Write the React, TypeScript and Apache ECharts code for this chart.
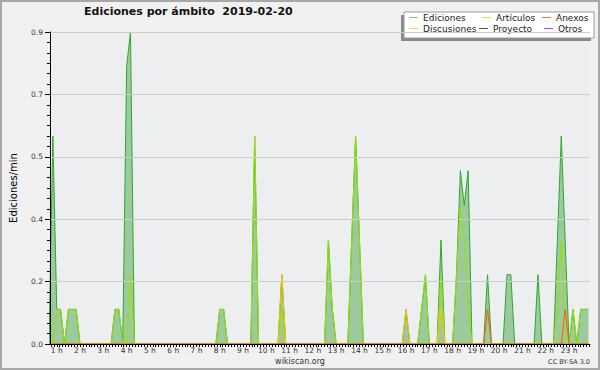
import React, { useEffect, useRef } from "react";
import * as echarts from "echarts";

// ---- texts ----
const TITLE = "Ediciones por ámbito  2019-02-20";
const Y_NAME = "Ediciones/min";
const FOOTER = "wikiscan.org";
const LICENSE = "CC BY-SA 3.0";

// ---- axes ----
const HOURS = [1, 2, 3, 4, 5, 6, 7, 8, 9, 10, 11, 12, 13, 14, 15, 16, 17, 18, 19, 20, 21, 22, 23];
const X_MIN = 0.71;
const X_MAX = 23.9;
const Y_MAX = 0.9;
const Y_STEP = 0.18;

// 10-minute bins, one row per hour (6 bins)
const BIN_START = 0;
const BIN_STEP = 1 / 6;

// ---- series values (edits per minute) ----
const ediciones = [
  0, 0, 0, 0, 0, 0.6,
  0.1, 0.1, 0, 0.1, 0.1, 0.1,
  0, 0, 0, 0, 0, 0,
  0, 0, 0, 0.1, 0.1, 0,
  0.8, 0.9, 0, 0, 0, 0,
  0, 0, 0, 0, 0, 0,
  0, 0, 0, 0, 0, 0,
  0, 0, 0, 0, 0, 0,
  0.1, 0.1, 0, 0, 0, 0,
  0, 0, 0, 0.6, 0, 0,
  0, 0, 0, 0, 0.2, 0,
  0, 0, 0, 0, 0, 0,
  0, 0, 0, 0, 0.3, 0.1,
  0, 0, 0, 0, 0.3, 0.6,
  0.3, 0, 0, 0, 0, 0,
  0, 0, 0, 0, 0, 0,
  0.1, 0, 0, 0, 0.1, 0.2,
  0, 0, 0, 0.3, 0, 0,
  0, 0.2, 0.5, 0.4, 0.5, 0,
  0, 0, 0, 0.2, 0, 0,
  0, 0, 0.2, 0.2, 0, 0,
  0, 0, 0, 0, 0.2, 0,
  0, 0, 0, 0.3, 0.6, 0.3,
  0, 0.1, 0, 0.1, 0.1, 0.1,
];

const articulos = [
  0, 0, 0, 0, 0, 0,
  0.1, 0.1, 0, 0.1, 0.1, 0.1,
  0, 0, 0, 0, 0, 0,
  0, 0, 0, 0.1, 0.1, 0,
  0, 0.2, 0, 0, 0, 0,
  0, 0, 0, 0, 0, 0,
  0, 0, 0, 0, 0, 0,
  0, 0, 0, 0, 0, 0,
  0.1, 0.1, 0, 0, 0, 0,
  0, 0, 0, 0.6, 0, 0,
  0, 0, 0, 0, 0.1, 0,
  0, 0, 0, 0, 0, 0,
  0, 0, 0, 0, 0.3, 0.1,
  0, 0, 0, 0, 0.3, 0.6,
  0.3, 0, 0, 0, 0, 0,
  0, 0, 0, 0, 0, 0,
  0, 0, 0, 0, 0.1, 0.2,
  0, 0, 0, 0.2, 0, 0,
  0, 0.2, 0.4, 0.3, 0.1, 0,
  0, 0, 0, 0, 0, 0,
  0, 0, 0, 0, 0, 0,
  0, 0, 0, 0, 0, 0,
  0, 0, 0, 0.1, 0.3, 0,
  0, 0.1, 0, 0.1, 0.1, 0.1,
];

const anexos = [
  0, 0, 0, 0, 0, 0,
  0, 0, 0, 0, 0, 0,
  0, 0, 0, 0, 0, 0,
  0, 0, 0, 0, 0, 0,
  0, 0, 0, 0, 0, 0,
  0, 0, 0, 0, 0, 0,
  0, 0, 0, 0, 0, 0,
  0, 0, 0, 0, 0, 0,
  0, 0, 0, 0, 0, 0,
  0, 0, 0, 0, 0, 0,
  0, 0, 0, 0, 0, 0,
  0, 0, 0, 0, 0, 0,
  0, 0, 0, 0, 0, 0,
  0, 0, 0, 0, 0, 0,
  0, 0, 0, 0, 0, 0,
  0, 0, 0, 0, 0, 0,
  0, 0, 0, 0, 0, 0,
  0, 0, 0, 0, 0, 0,
  0, 0, 0, 0, 0, 0,
  0, 0, 0, 0.1, 0, 0,
  0, 0, 0, 0, 0, 0,
  0, 0, 0, 0, 0, 0,
  0, 0, 0, 0, 0, 0.1,
  0, 0, 0, 0, 0, 0,
];

const discusiones = [
  0, 0, 0, 0, 0, 0,
  0, 0, 0, 0, 0, 0,
  0, 0, 0, 0, 0, 0,
  0, 0, 0, 0, 0, 0,
  0, 0, 0, 0, 0, 0,
  0, 0, 0, 0, 0, 0,
  0, 0, 0, 0, 0, 0,
  0, 0, 0, 0, 0, 0,
  0, 0, 0, 0, 0, 0,
  0, 0, 0, 0, 0, 0,
  0, 0, 0, 0, 0.2, 0,
  0, 0, 0, 0, 0, 0,
  0, 0, 0, 0, 0, 0,
  0, 0, 0, 0, 0, 0,
  0, 0, 0, 0, 0, 0,
  0, 0, 0, 0, 0, 0,
  0.1, 0, 0, 0, 0, 0,
  0, 0, 0, 0.1, 0, 0,
  0, 0, 0, 0, 0, 0,
  0, 0, 0, 0, 0, 0,
  0, 0, 0, 0, 0, 0,
  0, 0, 0, 0, 0, 0,
  0, 0, 0, 0, 0, 0,
  0, 0, 0, 0, 0, 0,
];

const proyecto = [
  0, 0, 0, 0, 0, 0,
  0, 0, 0, 0, 0, 0,
  0, 0, 0, 0, 0, 0,
  0, 0, 0, 0, 0, 0,
  0, 0, 0, 0, 0, 0,
  0, 0, 0, 0, 0, 0,
  0, 0, 0, 0, 0, 0,
  0, 0, 0, 0, 0, 0,
  0, 0, 0, 0, 0, 0,
  0, 0, 0, 0, 0, 0,
  0, 0, 0, 0, 0, 0,
  0, 0, 0, 0, 0, 0,
  0, 0, 0, 0, 0, 0,
  0, 0, 0, 0, 0, 0,
  0, 0, 0, 0, 0, 0,
  0, 0, 0, 0, 0, 0,
  0, 0, 0, 0, 0, 0,
  0, 0, 0, 0, 0, 0,
  0, 0, 0, 0, 0, 0,
  0, 0, 0, 0, 0, 0,
  0, 0, 0, 0, 0, 0,
  0, 0, 0, 0, 0, 0,
  0, 0, 0, 0, 0, 0,
  0, 0, 0, 0, 0, 0,
];

const otros = [
  0, 0, 0, 0, 0, 0,
  0, 0, 0, 0, 0, 0,
  0, 0, 0, 0, 0, 0,
  0, 0, 0, 0, 0, 0,
  0, 0, 0, 0, 0, 0,
  0, 0, 0, 0, 0, 0,
  0, 0, 0, 0, 0, 0,
  0, 0, 0, 0, 0, 0,
  0, 0, 0, 0, 0, 0,
  0, 0, 0, 0, 0, 0,
  0, 0, 0, 0, 0, 0,
  0, 0, 0, 0, 0, 0,
  0, 0, 0, 0, 0, 0,
  0, 0, 0, 0, 0, 0,
  0, 0, 0, 0, 0, 0,
  0, 0, 0, 0, 0, 0,
  0, 0, 0, 0, 0, 0,
  0, 0, 0, 0, 0, 0,
  0, 0, 0, 0, 0, 0,
  0, 0, 0, 0, 0, 0,
  0, 0, 0, 0, 0, 0,
  0, 0, 0, 0, 0, 0,
  0, 0, 0, 0, 0, 0,
  0, 0, 0, 0, 0, 0,
];

const FONT = "DejaVu Sans";

const pairs = (vals: number[]) => vals.map((v, i) => [BIN_START + i * BIN_STEP, v]);

export default function App() {
  const ref = useRef<HTMLDivElement>(null);

  useEffect(() => {
    document.body.style.margin = "0";
    if (!ref.current) return;
    const chart = echarts.init(ref.current, undefined, { renderer: "svg" });

    const fineTicks: number[] = [];
    for (let t = 0.75; t < X_MAX; t += 0.125) fineTicks.push(t);

    const lineSeries = (name: string, vals: number[], color: string, z: number) => ({
      type: "line",
      name,
      data: pairs(vals),
      symbol: "none",
      showSymbol: false,
      lineStyle: { color, width: 1 },
      itemStyle: { color },
      clip: true,
      z,
    });

    const legendItem = (name: string, color: string, left: number, top: number) => ({
      data: [{ name, icon: "rect", itemStyle: { color } }],
      left,
      top,
      padding: 0,
      itemWidth: 9,
      itemHeight: 1,
      selectedMode: false,
      z: 6,
      textStyle: { fontSize: 9, fontFamily: FONT, color: "#222", padding: [0, 0, 0, 0] },
    });

    const option: any = {
      animation: false,
      backgroundColor: "#f1f1f1",
      title: {
        text: TITLE,
        left: 84,
        top: 6,
        padding: 0,
        textStyle: { fontSize: 11, fontWeight: "bold", fontFamily: FONT, color: "#111" },
      },
      grid: {
        left: 46,
        right: 10,
        top: 32,
        bottom: 26,
        show: true,
        backgroundColor: "#eceef0",
        borderWidth: 0,
        containLabel: false,
      },
      legend: [
        legendItem("Ediciones", "#88cc88", 409, 13),
        legendItem("Artículos", "#c8ee55", 482, 13),
        legendItem("Anexos", "#ee7744", 542, 13),
        legendItem("Discusiones", "#ffd040", 409, 24),
        legendItem("Proyecto", "#555555", 479, 24),
        legendItem("Otros", "#9955ee", 544, 24),
      ],
      xAxis: {
        type: "value",
        min: X_MIN,
        max: X_MAX,
        z: 10,
        axisLine: { show: true, onZero: false, lineStyle: { color: "#000", width: 1 } },
        axisTick: {
          show: true,
          customValues: fineTicks,
          length: 3,
          inside: false,
          lineStyle: { color: "#000", width: 1 },
        },
        axisLabel: {
          customValues: HOURS,
          formatter: (v: number) => `${v} h`,
          fontSize: 7.5,
          fontFamily: FONT,
          color: "#333",
          margin: 2,
        },
        splitLine: { show: false },
      },
      yAxis: {
        type: "value",
        min: 0,
        max: Y_MAX,
        interval: Y_STEP,
        z: 10,
        name: Y_NAME,
        nameLocation: "middle",
        nameRotate: 90,
        nameGap: 32,
        nameTextStyle: { fontSize: 10, fontFamily: FONT, color: "#000" },
        axisLine: { show: true, onZero: false, lineStyle: { color: "#000", width: 1 } },
        axisTick: { show: true, length: 5, inside: false, lineStyle: { color: "#000", width: 1 } },
        minorTick: { show: true, splitNumber: 6, length: 3, lineStyle: { color: "#000", width: 1 } },
        axisLabel: {
          formatter: (v: number) => v.toFixed(1),
          fontSize: 7.5,
          fontFamily: FONT,
          color: "#333",
          margin: 7,
        },
        splitLine: { show: true, lineStyle: { color: "#cccccc", width: 1 } },
        minorSplitLine: { show: false },
      },
      series: [
        {
          ...lineSeries("Ediciones", ediciones, "#2ea82e", 2),
          areaStyle: { color: "#9dca9d", opacity: 1 },
        },
        lineSeries("Proyecto", proyecto, "#555555", 3),
        lineSeries("Otros", otros, "#8a3ff0", 3),
        lineSeries("Artículos", articulos, "#9be000", 4),
        lineSeries("Discusiones", discusiones, "#ffbf00", 5),
        lineSeries("Anexos", anexos, "#ff5a00", 5),
      ],
      graphic: [
        {
          type: "rect",
          z: 100,
          silent: true,
          shape: { x: 1, y: 1, width: 598, height: 368 },
          style: { fill: "none", stroke: "#a8a8a8", lineWidth: 2 },
        },
        {
          type: "rect",
          z: 4,
          shape: { x: 401, y: 15, width: 190, height: 26 },
          style: { fill: "#8a8a8a" },
        },
        {
          type: "rect",
          z: 5,
          shape: { x: 404, y: 12, width: 190, height: 26 },
          style: { fill: "#ffffff", stroke: "#9a9a9a", lineWidth: 1 },
        },
        {
          type: "text",
          z: 5,
          x: 300,
          y: 361,
          style: {
            text: FOOTER,
            fontSize: 8,
            fontFamily: FONT,
            fill: "#333",
            align: "center",
            verticalAlign: "middle",
          },
        },
        {
          type: "text",
          z: 5,
          x: 590,
          y: 362,
          style: {
            text: LICENSE,
            fontSize: 6.5,
            fontFamily: FONT,
            fill: "#333",
            align: "right",
            verticalAlign: "middle",
          },
        },
      ],
    };

    chart.setOption(option);
    return () => chart.dispose();
  }, []);

  return <div ref={ref} style={{ width: 600, height: 370 }} />;
}
